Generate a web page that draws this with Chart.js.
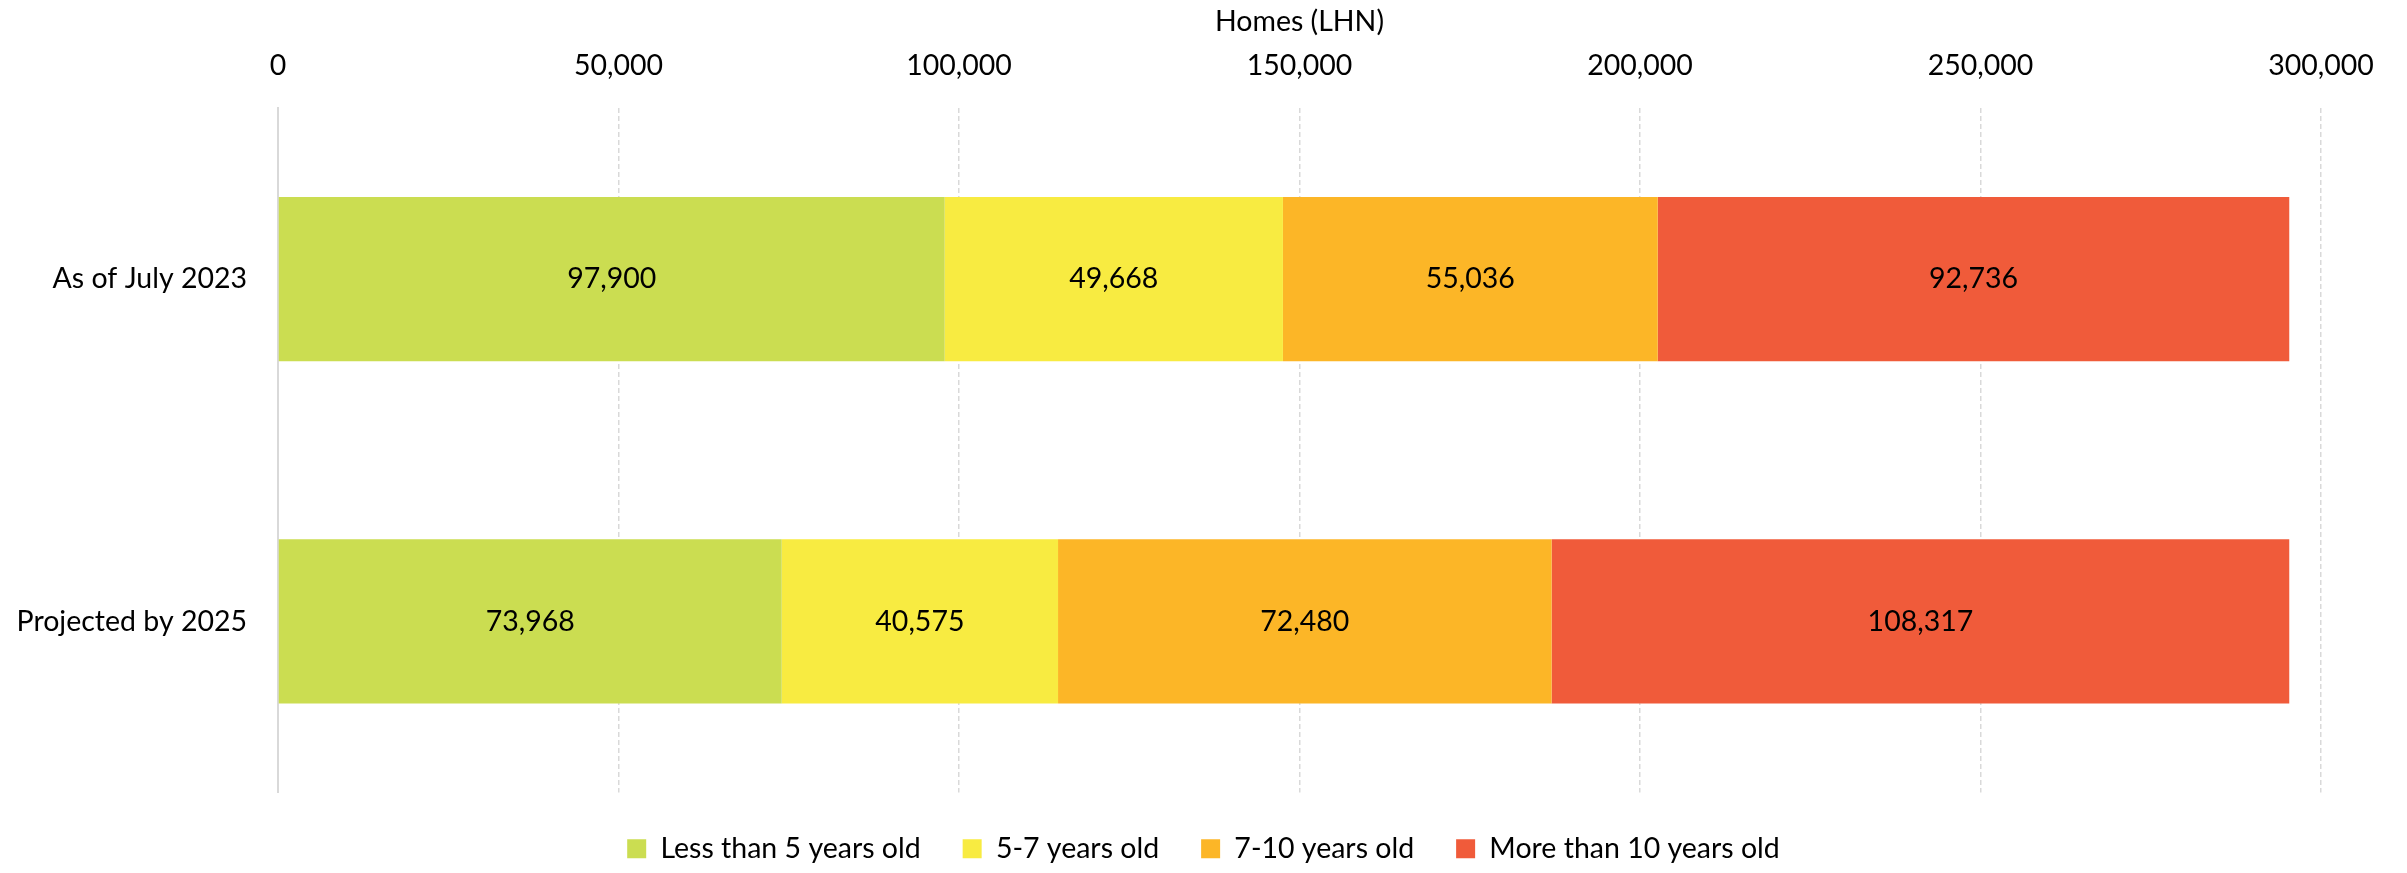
<!DOCTYPE html>
<html>
<head>
<meta charset="utf-8">
<title>Homes by age of boiler</title>
<script src="https://cdn.jsdelivr.net/npm/chart.js@4/dist/chart.umd.min.js"></script>
<style>
  html, body { margin: 0; padding: 0; background: #ffffff; }
  #wrap { width: 2407px; height: 873px; }
</style>
</head>
<body>
<div id="wrap"><canvas id="chart" width="2407" height="873"></canvas></div>
<script>
// Categories (rows) and the four stacked age bands
const categories = ['As of July 2023', 'Projected by 2025'];
const seriesNames = ['Less than 5 years old', '5-7 years old', '7-10 years old', 'More than 10 years old'];
const lessThan5 = [97900, 73968];
const from5to7 = [49668, 40575];
const from7to10 = [55036, 72480];
const moreThan10 = [92736, 108317];
const xTickValues = [0, 50000, 100000, 150000, 200000, 250000, 300000];
const axisTitle = 'Homes (LHN)';

const seriesColors = ['#CBDD51', '#F8EB41', '#FCB627', '#F05B3A'];
const FONT = 'Lato, "Open Sans", sans-serif';
const FONT_SIZE = 28.5;

const fmt = v => Number(v).toLocaleString('en-US');

// White page behind the chart
const whiteBackground = {
  id: 'whiteBackground',
  beforeDraw(chart) {
    const ctx = chart.ctx;
    ctx.save();
    ctx.fillStyle = '#ffffff';
    ctx.fillRect(0, 0, chart.width, chart.height);
    ctx.restore();
  }
};

// Value written in the middle of each stacked segment
const segmentLabels = {
  id: 'segmentLabels',
  afterDatasetsDraw(chart) {
    const ctx = chart.ctx;
    ctx.save();
    ctx.font = FONT_SIZE + 'px ' + FONT;
    ctx.fillStyle = '#000000';
    ctx.textAlign = 'center';
    ctx.textBaseline = 'middle';
    chart.data.datasets.forEach((ds, i) => {
      const meta = chart.getDatasetMeta(i);
      meta.data.forEach((bar, j) => {
        const p = bar.getCenterPoint();
        ctx.fillText(fmt(ds.data[j]), p.x, p.y);
      });
    });
    ctx.restore();
  }
};

const seriesData = [lessThan5, from5to7, from7to10, moreThan10];

new Chart(document.getElementById('chart'), {
  type: 'bar',
  data: {
    labels: categories,
    datasets: seriesData.map((d, i) => ({
      label: seriesNames[i],
      data: d,
      backgroundColor: seriesColors[i],
      borderWidth: 0,
      categoryPercentage: 1,
      barPercentage: 0.48
    }))
  },
  options: {
    indexAxis: 'y',
    responsive: false,
    animation: false,
    devicePixelRatio: 1,
    layout: { padding: 0 },
    font: { family: FONT, size: FONT_SIZE },
    scales: {
      x: {
        position: 'top',
        stacked: true,
        min: 0,
        max: 300000,
        afterBuildTicks(scale) {
          scale.ticks = xTickValues.map(v => ({ value: v }));
        },
        afterFit(scale) {
          scale.height = 108;
          // room on the right so the plot ends at the 300,000 line with margin
          scale.paddingRight = 86;
        },
        ticks: {
          color: '#000000',
          padding: 25,
          font: { family: FONT, size: FONT_SIZE },
          callback: v => fmt(v)
        },
        grid: {
          color: '#D9D9D9',
          lineWidth: 1.5,
          drawTicks: false
        },
        border: { display: false, dash: [5, 3] },
        title: {
          display: true,
          text: axisTitle,
          color: '#000000',
          font: { family: FONT, size: FONT_SIZE },
          padding: { top: 5, bottom: 0 }
        }
      },
      y: {
        stacked: true,
        afterFit(scale) { scale.width = 278; },
        ticks: {
          color: '#000000',
          padding: 31,
          font: { family: FONT, size: FONT_SIZE }
        },
        grid: { display: false, drawTicks: false },
        border: { display: true, color: '#D9D9D9', width: 2 }
      }
    },
    plugins: {
      legend: {
        position: 'bottom',
        labels: {
          color: '#000000',
          boxWidth: 19,
          boxHeight: 19,
          padding: 42,
          font: { family: FONT, size: FONT_SIZE }
        }
      },
      tooltip: { enabled: false }
    }
  },
  plugins: [whiteBackground, segmentLabels]
});
</script>
</body>
</html>
